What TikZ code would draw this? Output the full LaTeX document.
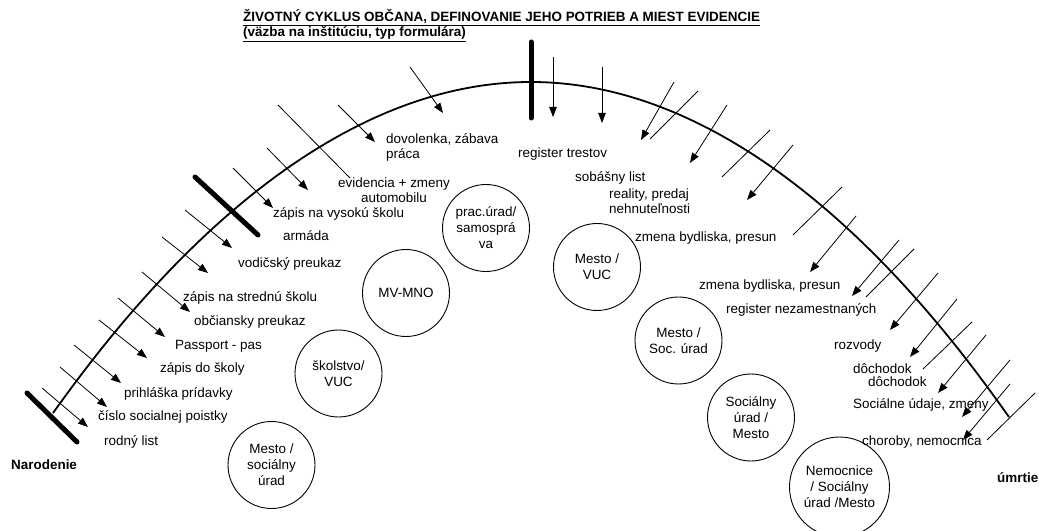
\documentclass[tikz,border=0pt]{standalone}
\usepackage{fontspec}
\setmainfont{Liberation Sans}
\usetikzlibrary{arrows.meta}

\begin{document}
\begin{tikzpicture}[x=1bp,y=-1bp,
  lbl/.style={anchor=west,inner sep=0pt,font=\fontsize{13.5}{15}\selectfont},
  ttl/.style={anchor=base west,inner sep=0pt,font=\fontsize{13.5}{13.5}\selectfont\bfseries},
  inst/.style={circle,draw,line width=0.9bp,minimum size=87bp,inner sep=0pt,align=center,font=\fontsize{13.5}{16}\selectfont},
  arw/.style={line width=0.8bp,-{Triangle[length=10bp,width=7.5bp]}},
  plainln/.style={line width=0.8bp},
  thickbar/.style={line width=5bp,line cap=round}]
\useasboundingbox (0,0) rectangle (1039,531);
% title
\node[ttl] (title) at (243,22) {\underline{ŽIVOTNÝ CYKLUS OBČANA, DEFINOVANIE JEHO POTRIEB A MIEST EVIDENCIE}};
\node[ttl] (subtitle) at (243,37) {\underline{(väzba na inštitúciu, typ formulára)}};
% life line
\draw[line width=1.8bp] (53,413) parabola bend (531,82) (1009,417);
\draw[thickbar] (27,393)--(77,442);
\draw[thickbar] (195,177)--(258,235);
\draw[thickbar] (531,42)--(531,118);
% left side
\draw[arw] (42,388)--(88,427);
\draw[arw] (60,367)--(107,407);
\draw[arw] (74,345)--(121,383);
\draw[arw] (99,320)--(147,358);
\draw[arw] (118,298)--(165,337);
\draw[arw] (142,272)--(190,312);
\draw[arw] (162,237)--(208,273);
\draw[arw] (185,210)--(232,248);
\draw[arw] (233,168)--(273,208);
\draw[arw] (267,148)--(308,190);
\draw[plainln] (278,105)--(350,178);
\draw[arw] (338,105)--(375,142);
\draw[arw] (410,67)--(443,113);
% right side
\draw[arw] (553,57)--(553,117);
\draw[arw] (602,67)--(602,123);
\draw[arw] (674,82)--(641,140);
\draw[plainln] (698,91)--(650,139);
\draw[arw] (727,105)--(690,163);
\draw[plainln] (770,130)--(722,177);
\draw[arw] (793,145)--(747,200);
\draw[plainln] (842,187)--(793,235);
\draw[arw] (856,216)--(810,272);
\draw[arw] (899,240)--(852,296);
\draw[plainln] (914,249)--(866,297);
\draw[arw] (938,273)--(890,330);
\draw[arw] (957,299)--(910,357);
\draw[plainln] (972,322)--(923,369);
\draw[arw] (986,335)--(938,393);
\draw[arw] (1010,360)--(962,417);
\draw[arw] (1010,384)--(963,440);
\draw[plainln] (1035,393)--(987,440);
% labels, birth side
\node[lbl,font=\fontsize{13.5}{15}\selectfont\bfseries] (narodenie) at (11,465) {Narodenie};
\node[lbl] (rodny) at (104,442) {rodný list};
\node[lbl] (cislo) at (98,417) {číslo socialnej poistky};
\node[lbl] (prihlaska) at (124,394) {prihláška prídavky};
\node[lbl] (skola) at (160,369) {zápis do školy};
\node[lbl] (passport) at (175,346) {Passport - pas};
\node[lbl] (obciansky) at (194,322) {občiansky preukaz};
\node[lbl] (stredna) at (183,298) {zápis na strednú školu};
\node[lbl] (vodicsky) at (238,264) {vodičský preukaz};
\node[lbl] (armada) at (283,236) {armáda};
\node[lbl] (vysoka) at (273,214) {zápis na vysokú školu};
\node[lbl,anchor=center,align=center] (auto) at (394,190.5) {evidencia + zmeny\\automobilu};
\node[lbl,align=left] (dovolenka) at (386,147) {dovolenka, zábava\\práca};
% labels, death side
\node[lbl] (trestov) at (518,154) {register trestov};
\node[lbl] (sobasny) at (575,178) {sobášny list};
\node[lbl,align=left] (reality) at (609,201.5) {reality, predaj\\nehnuteľnosti};
\node[lbl] (bydlisko) at (635,238) {zmena bydliska, presun};
\node[lbl] (presun) at (699,286) {zmena bydliska, presun};
\node[lbl] (nezam) at (726,310) {register nezamestnaných};
\node[lbl] (rozvody) at (834,346) {rozvody};
\node[lbl] (dochodok) at (853,369) {dôchodok};
\node[lbl] (dochodokb) at (868,382) {dôchodok};
\node[lbl] (socudaje) at (853,405) {Sociálne údaje, zmeny};
\node[lbl] (choroby) at (862,442) {choroby, nemocnica};
\node[lbl,font=\fontsize{13.5}{15}\selectfont\bfseries] (umrtie) at (997,478) {úmrtie};
% institutions
\node[inst] (mestosoc) at (271.5,465) {Mesto /\\sociálny\\úrad};
\node[inst] (skolstvo) at (338.5,373.5) {školstvo/\\VUC};
\node[inst] (mvmno) at (406,293) {MV-MNO};
\node[inst] (pracurad) at (486,228) {prac.úrad/\\samosprá\\va};
\node[inst] (mestovuc) at (597,267) {Mesto /\\VUC};
\node[inst] (mestosocb) at (678.5,340.5) {Mesto /\\Soc. úrad};
\node[inst] (socmesto) at (751,417.5) {Sociálny\\úrad /\\Mesto};
\node[inst,minimum size=100bp] (nemocnice) at (839.5,487) {Nemocnice\\/ Sociálny\\úrad /Mesto};
\end{tikzpicture}
\end{document}
